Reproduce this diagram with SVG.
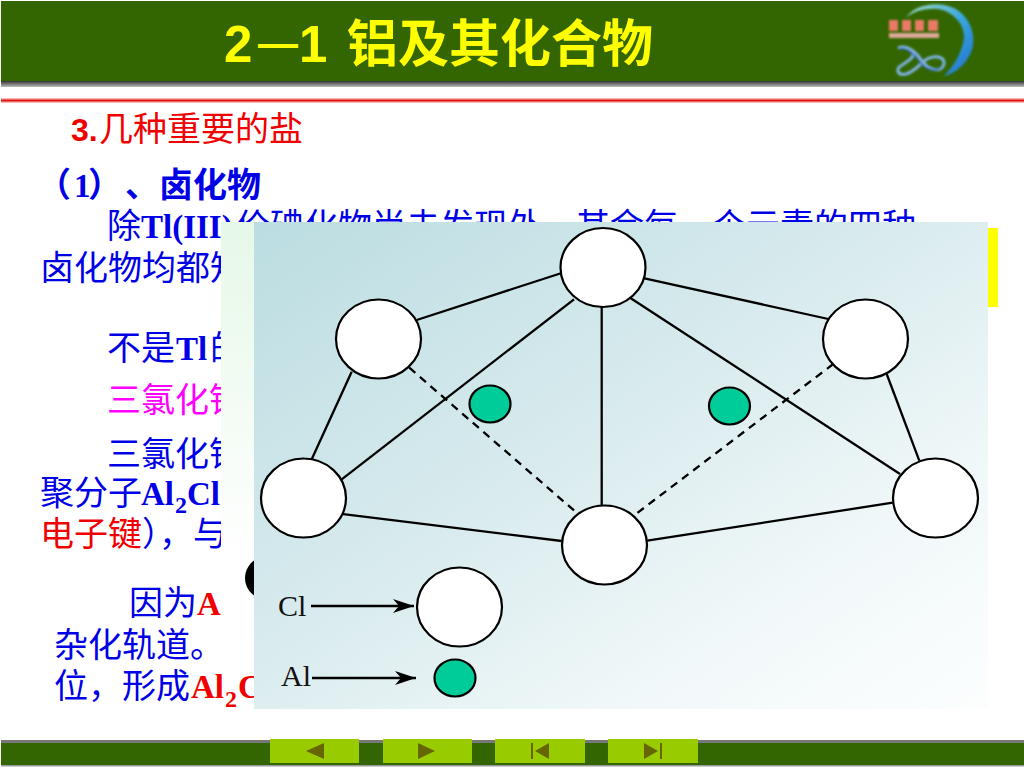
<svg xmlns="http://www.w3.org/2000/svg" width="1024" height="768" viewBox="0 0 1024 768">
<style>
text{font-family:"Noto Sans CJK SC",sans-serif;font-size:34px;fill:#0000e6}
.l{font-family:"Liberation Serif","Noto Sans CJK SC",serif;font-weight:bold;font-size:33px}
.r{fill:#f00000}
.b{font-weight:bold}
.sub{font-size:24px}
.bond{stroke:#000;stroke-width:2.3;fill:none}
.dash{stroke:#000;stroke-width:2.3;fill:none;stroke-dasharray:8 6}
.atom{fill:#fff;stroke:#000;stroke-width:2.2}
.al{fill:#00cc99;stroke:#000;stroke-width:2.2}
.btn{fill:#99cc00}
.ic{fill:#666600}
.lg{font-family:"Liberation Serif",serif;font-size:30px;fill:#111}
.ttl{font-size:51px;font-weight:bold;fill:#ffff00}
</style>
<defs>
<linearGradient id="pg" x1="0" y1="0" x2="1" y2="1">
<stop offset="0" stop-color="#bbdde1"/><stop offset="0.45" stop-color="#d9ebee"/><stop offset="0.75" stop-color="#f1f8f9"/><stop offset="1" stop-color="#fcfefe"/>
</linearGradient>
<linearGradient id="strip" x1="0" y1="0" x2="0" y2="1">
<stop offset="0" stop-color="#e6f8e8"/><stop offset="1" stop-color="#ffffff"/>
</linearGradient>
<linearGradient id="shadow" x1="0" y1="0" x2="0" y2="1">
<stop offset="0" stop-color="#333"/><stop offset="1" stop-color="#bbb"/>
</linearGradient>
<linearGradient id="sw" x1="0" y1="0" x2="1" y2="1">
<stop offset="0" stop-color="#a5dcc8"/><stop offset="0.5" stop-color="#3aa8e0"/><stop offset="1" stop-color="#1f6fd0"/>
</linearGradient>
<marker id="arr" markerUnits="userSpaceOnUse" markerWidth="22" markerHeight="14" refX="21" refY="7" orient="auto">
<path d="M0 0 L21 7 L0 14 L6 7 Z" fill="#000"/>
</marker>
<filter id="soft"><feGaussianBlur stdDeviation="0.8"/></filter>
</defs>

<rect width="1024" height="768" fill="#fff"/>

<g id="header">
<rect x="1" y="1" width="1023" height="80" fill="#336600"/>
<rect x="1" y="81" width="1023" height="6" fill="url(#shadow)"/>
<rect x="1" y="98" width="1023" height="5" fill="#f6b8b0"/>
<rect x="1" y="99.5" width="1023" height="2" fill="#e01010"/>
<text class="ttl" y="62"><tspan x="224" style="font-family:'Liberation Sans'">2</tspan><tspan x="258" y="57" style="font-family:'Liberation Sans';font-size:40px">—</tspan><tspan x="299" y="62" style="font-family:'Liberation Sans'">1</tspan><tspan x="347">铝及其化合物</tspan></text>
</g>

<g id="logo" filter="url(#soft)">
<path d="M906 18 C914 4 940 0 956 9 C974 20 978 44 968 58 C962 68 953 74 944 76 C952 68 962 54 964 38 C965 24 952 11 938 9 C924 8 912 12 906 18 Z" fill="url(#sw)"/>
<path d="M898 48 C908 44 916 52 922 61 C930 72 942 72 944 64 C945 56 934 55 927 59 C919 64 916 71 906 74 C896 76 896 68 902 65 C910 60 916 56 912 50" fill="none" stroke="#7fb4e8" stroke-width="3"/>
<path d="M899 49 C908 47 914 55 921 63 C927 71 938 72 941 66" fill="none" stroke="#2a5fc0" stroke-width="1.3"/>
<g fill="#e87a66">
<rect x="889" y="20" width="9" height="11"/><rect x="902" y="20" width="9" height="11"/><rect x="915" y="20" width="9" height="11"/><rect x="928" y="20" width="10" height="11"/>
</g>
<rect x="889" y="33" width="50" height="5" fill="#e0a898"/>
</g>

<g id="text-block">
<text class="r" y="141"><tspan x="71" style="font-family:'Liberation Sans';font-weight:bold;font-size:32px">3.</tspan><tspan x="99">几种重要的盐</tspan></text>
<text class="b" y="197"><tspan x="37">（</tspan><tspan x="74" class="l">1</tspan><tspan x="88">）</tspan><tspan x="125">、</tspan><tspan x="159">卤化物</tspan></text>
<text y="238"><tspan x="107">除</tspan><tspan x="141" class="l">Tl(III)</tspan><tspan x="236">价碘化物尚未发现外，其余每一个元素的四种</tspan></text>
<text x="40" y="280">卤化物均都知</text>
<text y="360"><tspan x="107">不是</tspan><tspan x="176" class="l">Tl</tspan><tspan x="210">的</tspan></text>
<text x="107" y="412" style="fill:#ff00ff">三氯化铝</text>
<text x="107" y="466">三氯化铝</text>
<text y="505"><tspan x="40">聚分子</tspan><tspan x="141" class="l">Al</tspan><tspan x="175" y="513" class="l sub">2</tspan><tspan x="187" y="505" class="l">Cl</tspan></text>
<text y="546"><tspan x="40" class="r">电子键</tspan><tspan x="142">），与</tspan></text>
<text y="615"><tspan x="129">因为</tspan><tspan x="197" class="l r">A</tspan></text>
<text x="54" y="657">杂化轨道。</text>
<text y="698"><tspan x="54">位，形成</tspan><tspan x="191" class="l r">Al</tspan><tspan x="225" y="707" class="l r sub">2</tspan><tspan x="238" y="698" class="l r">Cl</tspan></text>
</g>

<rect id="bar" x="988" y="228" width="10" height="79" fill="#ffff00"/>
<rect id="strip-panel" x="221" y="222" width="33" height="340" fill="url(#strip)"/>
<ellipse id="blob" cx="265" cy="578" rx="20" ry="21" fill="#000"/>
<rect id="panel" x="254" y="222" width="734" height="487" fill="url(#pg)"/>

<g id="connectors">
<line class="bond" x1="416.7" y1="320" x2="561.7" y2="273"/>
<line class="bond" x1="341.7" y1="479.3" x2="574" y2="299.3"/>
<line class="bond" x1="351.7" y1="371.7" x2="311.7" y2="459.3"/>
<line class="dash" x1="409.3" y1="367.7" x2="577.3" y2="513.3"/>
<line class="bond" x1="337.3" y1="513.3" x2="561.7" y2="541"/>
<line class="bond" x1="601.7" y1="307" x2="601.7" y2="505"/>
<line class="bond" x1="640" y1="277.3" x2="828.3" y2="319"/>
<line class="bond" x1="627.3" y1="296" x2="900" y2="474"/>
<line class="bond" x1="886.7" y1="374" x2="919.3" y2="460.7"/>
<line class="dash" x1="833.3" y1="364" x2="633.3" y2="516"/>
<line class="bond" x1="647.3" y1="540.7" x2="892.7" y2="502.7"/>
<line class="bond" x1="311" y1="606" x2="414" y2="606" marker-end="url(#arr)"/>
<line class="bond" x1="312" y1="678" x2="416" y2="678" marker-end="url(#arr)"/>
</g>

<g id="cl-top"><ellipse class="atom" cx="603" cy="267.5" rx="42.5" ry="39.5"/></g>
<g id="cl-left"><ellipse class="atom" cx="378.5" cy="339" rx="42.5" ry="39.5"/></g>
<g id="cl-right"><ellipse class="atom" cx="865.5" cy="339" rx="42.5" ry="39.5"/></g>
<g id="cl-lower-left"><ellipse class="atom" cx="303.5" cy="498" rx="42.5" ry="39.5"/></g>
<g id="cl-lower-right"><ellipse class="atom" cx="935.5" cy="498" rx="42.5" ry="39.5"/></g>
<g id="cl-bottom"><ellipse class="atom" cx="604.5" cy="545" rx="42.5" ry="39.5"/></g>
<g id="al-left"><ellipse class="al" cx="490" cy="404" rx="20.5" ry="18.5"/></g>
<g id="al-right"><ellipse class="al" cx="729.5" cy="406" rx="20.5" ry="18.5"/></g>
<g id="legend-cl"><ellipse class="atom" cx="459.5" cy="607" rx="42.5" ry="39.5"/><text class="lg" x="278" y="616">Cl</text></g>
<g id="legend-al"><ellipse class="al" cx="455" cy="678" rx="20.5" ry="18.5"/><text class="lg" x="281" y="686">Al</text></g>

<g id="footer">
<rect x="1" y="740" width="1023" height="3" fill="#777"/>
<rect x="1" y="743" width="1023" height="22" fill="#336600"/>
<rect x="1" y="765" width="1023" height="1.5" fill="#999"/>
<g id="btn-prev"><rect class="btn" x="270" y="739" width="89" height="24"/><path class="ic" d="M306 751 L324 743 V759 Z"/></g>
<g id="btn-next"><rect class="btn" x="383" y="739" width="89" height="24"/><path class="ic" d="M435 751 L418 743 V759 Z"/></g>
<g id="btn-first"><rect class="btn" x="495" y="739" width="90" height="24"/><path class="ic" d="M531 743 H533 V759 H531 Z M535 751 L549 743 V759 Z"/></g>
<g id="btn-last"><rect class="btn" x="608" y="739" width="90" height="24"/><path class="ic" d="M644 743 L658 751 L644 759 Z M660 743 H662 V759 H660 Z"/></g>
</g>
</svg>
